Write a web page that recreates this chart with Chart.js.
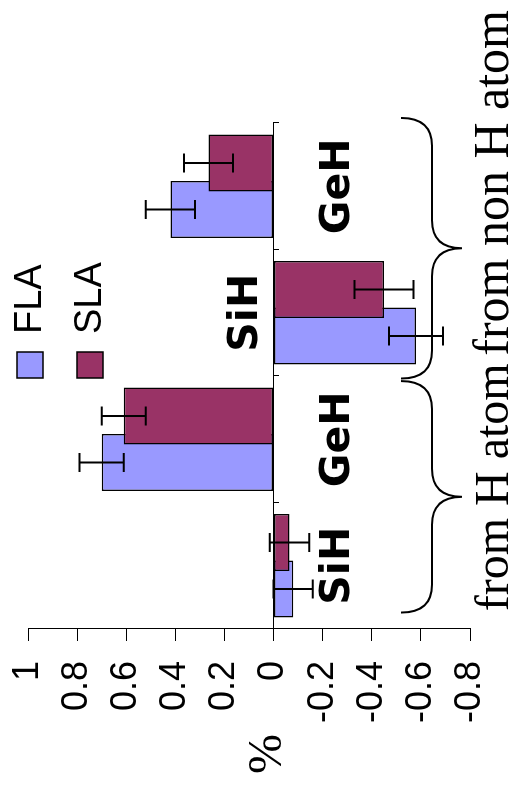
<!DOCTYPE html>
<html>
<head>
<meta charset="utf-8">
<script src="https://cdn.jsdelivr.net/npm/chart.js@4.4.0/dist/chart.umd.min.js"></script>
<style>
  html, body { margin: 0; padding: 0; background: #fff; overflow: hidden; }
  /* the chart is laid out landscape and turned a quarter turn counter-clockwise */
  #wrap {
    position: absolute; left: 0; top: 0;
    width: 794px; height: 517px;
    transform-origin: 0 0;
    transform: translateY(794px) rotate(-90deg);
  }
</style>
</head>
<body>
<div id="wrap"><canvas id="c" width="794" height="517"></canvas></div>
<script>
// Categories and groups
const categories = ['SiH', 'GeH', 'SiH', 'GeH'];
const groupLabels = ['from H atom', 'from non H atom'];
const groupMembers = [[0, 1], [2, 3]];

// Series values (%) and their error half-widths
const flaValues = [-0.08, 0.70, -0.58, 0.42];
const flaErrors = [0.08, 0.09, 0.11, 0.10];
const slaValues = [-0.065, 0.61, -0.45, 0.265];
const slaErrors = [0.08, 0.09, 0.12, 0.10];

// Value axis
const axisMin = -0.8;
const axisMax = 1;
const axisStep = 0.2;
const axisTitle = '%';

const SANS = '"Liberation Sans", Arial, sans-serif';
const WIDE_BOLD = '"DejaVu Sans", Verdana, sans-serif';
const SERIF = '"Liberation Serif", "Times New Roman", serif';

// FLA is listed first (left slot) but SLA is painted over it where they overlap
const paintOrder = {
  id: 'paintOrder',
  beforeDatasetDraw(chart, args) {
    if (args.index === 0) return false;
    if (args.index === 1) chart.getDatasetMeta(0).controller.draw();
  }
};

// Error bars with caps
const errorBars = {
  id: 'errorBars',
  afterDatasetsDraw(chart) {
    const ctx = chart.ctx, y = chart.scales.y;
    ctx.save();
    ctx.strokeStyle = '#000';
    ctx.lineWidth = 2;
    chart.data.datasets.forEach((ds, di) => {
      const meta = chart.getDatasetMeta(di);
      meta.data.forEach((bar, i) => {
        const v = ds.data[i], e = ds.errors[i];
        const y1 = y.getPixelForValue(v - e), y2 = y.getPixelForValue(v + e);
        const cap = 9.5;
        ctx.beginPath();
        ctx.moveTo(bar.x, y1); ctx.lineTo(bar.x, y2);
        ctx.moveTo(bar.x - cap, y1); ctx.lineTo(bar.x + cap, y1);
        ctx.moveTo(bar.x - cap, y2); ctx.lineTo(bar.x + cap, y2);
        ctx.stroke();
      });
    });
    ctx.restore();
  }
};

// Category names, legend, axis title, braces and group captions
const annotations = {
  id: 'annotations',
  afterDraw(chart) {
    const ctx = chart.ctx, x = chart.scales.x, y = chart.scales.y, area = chart.chartArea;
    const zero = y.getPixelForValue(0);
    ctx.save();

    // category names: below the zero line, except the third which sits above it
    ctx.font = 'bold 41px ' + WIDE_BOLD;
    ctx.fillStyle = '#000';
    ctx.textAlign = 'center';
    ctx.textBaseline = 'alphabetic';
    categories.forEach((name, i) => {
      const above = i === 2;
      ctx.fillText(name, x.getPixelForValue(i), above ? zero - 17 : zero + 75);
    });

    // legend
    ctx.font = '38px ' + SANS;
    ctx.textBaseline = 'middle';
    ctx.textAlign = 'left';
    chart.data.datasets.forEach((ds, i) => {
      const by = 17 + i * 60;
      ctx.fillStyle = ds.backgroundColor;
      ctx.fillRect(416, by, 26, 26);
      ctx.strokeStyle = '#000';
      ctx.lineWidth = 1.5;
      ctx.strokeRect(416, by, 26, 26);
      ctx.fillStyle = '#000';
      ctx.fillText(ds.label, 460, by + 14);
    });

    // value axis title
    ctx.font = '48px ' + SERIF;
    ctx.textAlign = 'center';
    ctx.fillText(axisTitle, 40, 268);

    // braces under each group
    const w = x.getPixelForValue(1) - x.getPixelForValue(0);
    const insets = [[0.37, 0.46], [0.52, 0.54]];
    const textShift = [0.36, 0.34];
    const textSize = [48, 50];
    const back = area.bottom - 38, ends = area.bottom - 69, tip = area.bottom - 8;
    const r = 28;
    ctx.strokeStyle = '#000';
    ctx.lineWidth = 2;
    groupMembers.forEach((m, g) => {
      const x1 = x.getPixelForValue(m[0]) - insets[g][0] * w;
      const x2 = x.getPixelForValue(m[m.length - 1]) + insets[g][1] * w;
      const xm = (x1 + x2) / 2;
      ctx.beginPath();
      ctx.moveTo(x1, ends);
      ctx.quadraticCurveTo(x1, back, x1 + r, back);
      ctx.lineTo(xm - r, back);
      ctx.quadraticCurveTo(xm, back, xm, tip);
      ctx.quadraticCurveTo(xm, back, xm + r, back);
      ctx.lineTo(x2 - r, back);
      ctx.quadraticCurveTo(x2, back, x2, ends);
      ctx.stroke();

      ctx.font = textSize[g] + 'px ' + SERIF;
      ctx.textAlign = 'left';
      ctx.textBaseline = 'alphabetic';
      ctx.fillText(groupLabels[g], x.getPixelForValue(m[0]) - textShift[g] * w, 508);
    });
    ctx.restore();
  }
};

new Chart(document.getElementById('c'), {
  type: 'bar',
  data: {
    labels: categories,
    datasets: [
      { label: 'FLA', data: flaValues, errors: flaErrors, backgroundColor: '#9999FF' },
      { label: 'SLA', data: slaValues, errors: slaErrors, backgroundColor: '#993366' }
    ]
  },
  options: {
    responsive: false,
    animation: false,
    devicePixelRatio: 1,
    layout: { padding: { top: 28, right: 123, bottom: 47, left: 0 } },
    datasets: {
      bar: {
        categoryPercentage: 0.735,
        barPercentage: 1.226,
        borderColor: '#000',
        borderWidth: 1.5,
        borderSkipped: false
      }
    },
    plugins: { legend: { display: false }, tooltip: { enabled: false } },
    scales: {
      x: {
        position: { y: 0 },
        offset: true,
        grid: { display: true, drawOnChartArea: false, drawTicks: true, tickLength: 5, color: '#000', offset: true },
        border: { display: true, color: '#000', width: 1 },
        ticks: { display: false, autoSkip: false }
      },
      y: {
        min: axisMin,
        max: axisMax,
        grid: { display: true, drawOnChartArea: false, drawTicks: true, tickLength: 12, color: '#000' },
        border: { display: true, color: '#000', width: 1 },
        ticks: {
          stepSize: axisStep,
          color: '#000',
          font: { family: SANS, size: 36 },
          padding: 20,
          callback: v => String(Math.round(v * 10) / 10)
        },
        afterFit(scale) {
          scale.width = 165;
          scale.paddingTop = 0;
          scale.paddingBottom = 0;
        }
      }
    }
  },
  plugins: [paintOrder, errorBars, annotations]
});
</script>
</body>
</html>
